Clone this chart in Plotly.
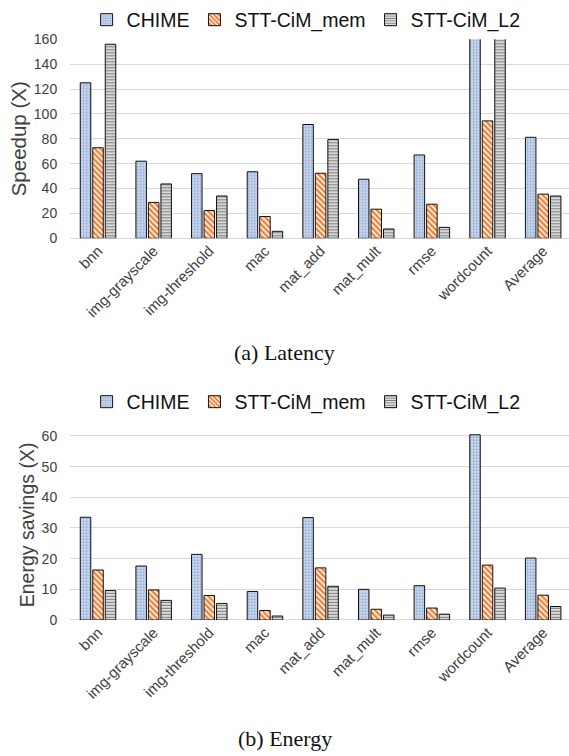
import plotly.graph_objects as go

categories = ["bnn", "img-grayscale", "img-threshold", "mac", "mat_add",
              "mat_mult", "rmse", "wordcount", "Average"]
series_names = ["CHIME", "STT-CiM_mem", "STT-CiM_L2"]

# (a) Latency speedup
lat_chime = [125, 62, 52, 53.5, 91.5, 47.5, 67, 305, 81.2]
lat_mem = [72.8, 28.8, 22.3, 17.5, 52.3, 23.4, 27.4, 94.4, 35.5]
lat_l2 = [156, 43.7, 34, 5.6, 79.5, 7.5, 8.8, 257, 34]

# (b) Energy savings
en_chime = [33.5, 17.6, 21.4, 9.3, 33.4, 10.0, 11.2, 60.4, 20.2]
en_mem = [16.3, 9.8, 8.0, 3.1, 17.0, 3.5, 3.9, 17.9, 8.1]
en_l2 = [9.6, 6.4, 5.4, 1.3, 11.0, 1.6, 1.9, 10.4, 4.4]

lat_ticks = [0, 20, 40, 60, 80, 100, 120, 140, 160]
en_ticks = [0, 10, 20, 30, 40, 50, 60]

W, H = 569, 756
FONT = "Liberation Sans, Arial, sans-serif"
SERIF = "Liberation Serif, Times New Roman, serif"
TXT = "#404040"
GRID = "#d9d9d9"

patterns = [
    dict(shape=".", bgcolor="#dae3f3", fgcolor="#8fa9d6", size=3, solidity=0.45, fillmode="replace"),
    dict(shape="\\", bgcolor="#ffffff", fgcolor="#f07f33", size=4, solidity=0.6, fillmode="replace"),
    dict(shape="-", bgcolor="#d9d9d9", fgcolor="#7f7f7f", size=3, solidity=0.35, fillmode="replace"),
]

fig = go.Figure()

def add_set(vals, xa, ya, leg):
    for name, v, p in zip(series_names, vals, patterns):
        fig.add_trace(go.Bar(
            x=categories, y=v, name=name, xaxis=xa, yaxis=ya, legend=leg,
            marker=dict(color=p["bgcolor"], pattern=p,
                        line=dict(color="#111111", width=1)),
        ))

add_set([lat_chime, lat_mem, lat_l2], "x", "y", "legend")
add_set([en_chime, en_mem, en_l2], "x2", "y2", "legend2")

x0 = 70.2 / W
xr = [-0.5, 8.5 - (571 - 569) / 55.7]

def px2y(p):
    return 1 - p / H

lat_top, lat_bot = 39.3, 238.3
en_bot = 620.0
en_pxu = 184.0 / 60
en_max = 62
en_top = en_bot - en_max * en_pxu

axis_common = dict(showline=False, ticks="", automargin=False)
xtick = dict(family=FONT, size=15, color=TXT)
ytick = dict(family=FONT, size=14, color=TXT)

fig.update_layout(
    width=W, height=H,
    margin=dict(l=0, r=0, t=0, b=0, autoexpand=False),
    paper_bgcolor="white", plot_bgcolor="white",
    barmode="group", bargap=0.326, bargroupgap=0.16,
    font=dict(family=FONT, color=TXT),
    xaxis=dict(domain=[x0, 1], range=xr, anchor="y", tickangle=-45,
               showgrid=False, tickfont=xtick, **axis_common),
    yaxis=dict(domain=[px2y(lat_bot), px2y(lat_top)], range=[0, 160], anchor="x",
               tickvals=lat_ticks, showgrid=True, gridcolor=GRID, gridwidth=1, ticklabelstandoff=12,
               zeroline=True, zerolinecolor=GRID, zerolinewidth=1, tickfont=ytick,
               title=dict(text="Speedup (X)", font=dict(family=FONT, size=20.5, color=TXT), standoff=1),
               **axis_common),
    xaxis2=dict(domain=[x0, 1], range=xr, anchor="y2", tickangle=-45,
                showgrid=False, tickfont=xtick, **axis_common),
    yaxis2=dict(domain=[px2y(en_bot), px2y(en_top)], range=[0, en_max], anchor="x2",
                tickvals=en_ticks, showgrid=True, gridcolor=GRID, gridwidth=1, ticklabelstandoff=12,
                zeroline=True, zerolinecolor=GRID, zerolinewidth=1, tickfont=ytick,
                title=dict(text="Energy savings (X)", font=dict(family=FONT, size=19.5, color=TXT), standoff=1),
                **axis_common),
    legend=dict(orientation="h", x=0.538, xanchor="center", y=px2y(20), yanchor="middle",
                font=dict(family=FONT, size=19.5, color="#111111"), bgcolor="rgba(0,0,0,0)"),
    legend2=dict(orientation="h", x=0.538, xanchor="center", y=px2y(402), yanchor="middle",
                 font=dict(family=FONT, size=19.5, color="#111111"), bgcolor="rgba(0,0,0,0)"),
    annotations=[
        dict(text="(a) Latency", x=0.5, y=px2y(352), xref="paper", yref="paper",
             showarrow=False, yanchor="middle", font=dict(family=SERIF, size=22, color="#111111")),
        dict(text="(b) Energy", x=0.5, y=px2y(738), xref="paper", yref="paper",
             showarrow=False, yanchor="middle", font=dict(family=SERIF, size=22, color="#111111")),
    ],
)

fig.write_html("out.html", config={"displayModeBar": False},
               post_script="document.body.style.margin='0';document.body.style.overflow='hidden';")
